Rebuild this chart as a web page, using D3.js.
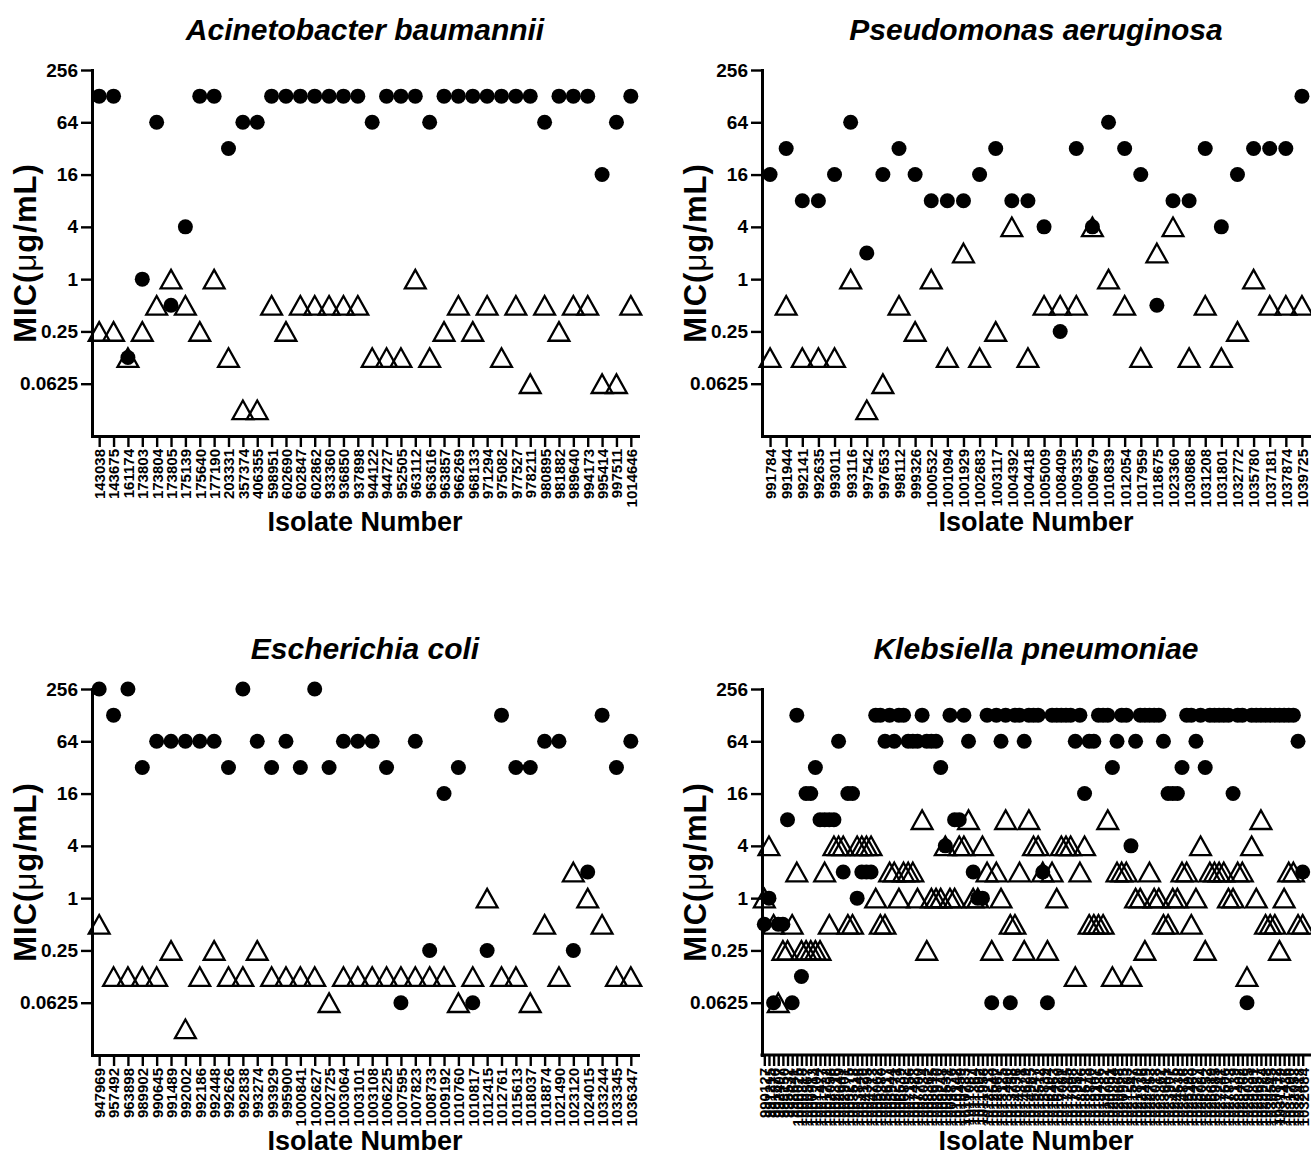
<!DOCTYPE html>
<html>
<head>
<meta charset="utf-8">
<script src="https://cdn.jsdelivr.net/npm/d3@7"></script>
<style>
  body { margin: 0; background: #fff; }
  svg text { font-family: "Liberation Sans", Arial, Helvetica, sans-serif; font-weight: bold; fill: #000; }
</style>
</head>
<body>
<svg id="chart" width="1311" height="1176"></svg>
<script>
// ---- y axis (MIC, log2) ----
var yTicks = [0.0625, 0.25, 1, 4, 16, 64, 256];
var yTickLabels = ["0.0625", "0.25", "1", "4", "16", "64", "256"];
var yMin = 0.015625, yMax = 256;

// ---- Acinetobacter baumannii ----
var abIsolates = ["143038","143675","161174","173803","173804","173805","175139","175640","177190","203331",
  "357374","406355","598951","602690","602847","602862","933360","936850","937898","944122",
  "944727","952505","963112","963616","963857","966269","968133","971294","975082","977527",
  "978211","980895","981882","989640","994173","995414","997511","1014646"];
var abCircle = [128,128,0.125,1,64,0.5,4,128,128,32,
  64,64,128,128,128,128,128,128,128,64,
  128,128,128,64,128,128,128,128,128,128,
  128,64,128,128,128,16,64,128];
var abTriangle = [0.25,0.25,0.125,0.25,0.5,1,0.5,0.25,1,0.125,
  0.03125,0.03125,0.5,0.25,0.5,0.5,0.5,0.5,0.5,0.125,
  0.125,0.125,1,0.125,0.25,0.5,0.25,0.5,0.125,0.5,
  0.0625,0.5,0.25,0.5,0.5,0.0625,0.0625,0.5];

// ---- Pseudomonas aeruginosa ----
var paIsolates = ["991784","991944","992141","992635","993011","993116","997542","997653","998112","999326",
  "1000532","1001094","1001929","1002683","1003117","1004392","1004418","1005009","1008409","1009335",
  "1009679","1010839","1012054","1017959","1018675","1023360","1030868","1031208","1031801","1032772",
  "1035780","1037181","1037874","1039725"];
var paCircle = [16,32,8,8,16,64,2,16,32,16,
  8,8,8,16,32,8,8,4,0.25,32,
  4,64,32,16,0.5,8,8,32,4,16,
  32,32,32,128];
var paTriangle = [0.125,0.5,0.125,0.125,0.125,1,0.03125,0.0625,0.5,0.25,
  1,0.125,2,0.125,0.25,4,0.125,0.5,0.5,0.5,
  4,1,0.5,0.125,2,4,0.125,0.5,0.125,0.25,
  1,0.5,0.5,0.5];

// ---- Escherichia coli ----
var ecIsolates = ["947969","957492","963898","989902","990645","991489","992002","992186","992448","992626",
  "992838","993274","993929","995900","1000841","1002627","1002725","1003064","1003101","1003108",
  "1006225","1007595","1007823","1008733","1009192","1010760","1010817","1012415","1012761","1015613",
  "1018037","1018874","1021490","1023120","1024015","1033244","1033345","1036347"];
var ecCircle = [256,128,256,32,64,64,64,64,64,32,
  256,64,32,64,32,256,32,64,64,64,
  32,0.0625,64,0.25,16,32,0.0625,0.25,128,32,
  32,64,64,0.25,2,128,32,64];
var ecTriangle = [0.5,0.125,0.125,0.125,0.125,0.25,0.03125,0.125,0.25,0.125,
  0.125,0.25,0.125,0.125,0.125,0.125,0.0625,0.125,0.125,0.125,
  0.125,0.125,0.125,0.125,0.125,0.0625,0.125,1,0.125,0.125,
  0.0625,0.5,0.125,2,1,0.5,0.125,0.125];

// ---- Klebsiella pneumoniae (labels overlap in the source, read approximately) ----
var kpIsolates = ["990127","991215","991876","992407","993150","995532","998641",
  "1000025","1000318","1000567","1000913","1001204","1001477","1001732","1002058","1002316","1002649",
  "1002901","1003275","1003518","1003846","1004120","1004395","1004713","1005062","1005380","1005617",
  "1005944","1006271","1006539","1006802","1007156","1007423","1007790","1008034","1008362","1008615",
  "1008970","1009248","1009531","1009876","1010142","1010459","1010733","1011087","1011364","1011692",
  "1011958","1012213","1012540","1012867","1013125","1013490","1013758","1014036","1014371","1014629",
  "1014985","1015247","1015512","1015839","1016104","1016463","1016720","1017081","1017345","1017698",
  "1017952","1018216","1018573","1018840","1019107","1019436","1019782","1020051","1020394","1020668",
  "1020925","1021283","1021547","1021870","1022136","1022419","1022753","1023018","1023362","1023641",
  "1023907","1024275","1024538","1024816","1025193","1025460","1025727","1026084","1026352","1026619",
  "1026985","1027241","1027506","1027873","1028139","1028402","1028768","1029035","1029391","1029657",
  "1029924","1030288","1030545","1030812","1031179","1031436","1031790","1032053","1032418","1032684"];
var kpCircle = [0.5,1,0.0625,0.5,0.5,8,0.0625,128,0.125,16,
  16,32,8,8,8,8,64,2,16,16,
  1,2,2,2,128,128,64,128,64,128,
  128,64,64,64,128,64,64,64,32,4,
  128,8,8,128,64,2,1,1,128,0.0625,
  128,64,128,0.0625,128,128,64,128,128,128,
  2,0.0625,128,128,128,128,128,64,128,16,
  64,64,128,128,128,32,64,128,128,4,
  64,128,128,128,128,128,64,16,16,16,
  32,128,128,64,128,32,128,128,128,128,
  128,16,128,128,0.0625,128,128,128,128,128,
  128,128,128,128,128,64,2];
var kpTriangle = [1,4,0.5,0.0625,0.25,0.25,0.5,2,0.25,0.25,
  0.25,0.25,0.25,2,0.5,4,4,4,0.5,0.5,
  4,4,4,4,1,0.5,0.5,2,2,1,
  2,2,2,1,8,0.25,1,1,1,4,
  1,1,4,4,8,1,1,4,2,0.25,
  2,1,8,0.5,0.5,2,0.25,8,4,4,
  2,0.25,2,1,4,4,4,0.125,2,4,
  0.5,0.5,0.5,0.5,8,0.125,2,2,2,0.125,
  1,1,0.25,2,1,1,0.5,0.5,1,1,
  2,2,0.5,1,4,0.25,2,2,2,2,
  1,1,2,2,0.125,4,1,8,0.5,0.5,
  0.5,0.25,1,2,2,0.5,0.5];

var panels = [
  {title: "Acinetobacter baumannii", ids: abIsolates, circ: abCircle, tri: abTriangle, x0: 92, x1: 638, y0: 70, y1: 436},
  {title: "Pseudomonas aeruginosa", ids: paIsolates, circ: paCircle, tri: paTriangle, x0: 762, x1: 1310, y0: 70, y1: 436},
  {title: "Escherichia coli", ids: ecIsolates, circ: ecCircle, tri: ecTriangle, x0: 92, x1: 638, y0: 689, y1: 1055},
  {title: "Klebsiella pneumoniae", ids: kpIsolates, circ: kpCircle, tri: kpTriangle, x0: 762, x1: 1305, xEnd: 1311, y0: 689, y1: 1055}
];

var svg = d3.select("#chart");
svg.append("rect").attr("width", 1311).attr("height", 1176).attr("fill", "#fff");

panels.forEach(drawPanel);

function drawPanel(p) {
  if (p.ids.length != p.circ.length || p.ids.length != p.tri.length) {
    console.error(p.title + " length mismatch", p.ids.length, p.circ.length, p.tri.length);
  }

  var x = d3.scalePoint()
    .domain(p.ids)
    .range([p.x0, p.x1])
    .padding(0.5);

  var y = d3.scaleLog().base(2)
    .domain([yMin, yMax])
    .range([p.y1, p.y0]);

  var g = svg.append("g");

  // x axis
  var xa = g.append("g")
    .attr("transform", "translate(0," + p.y1 + ")")
    .call(d3.axisBottom(x).tickSize(11).tickSizeOuter(0));
  xa.select(".domain").attr("stroke-width", 3).attr("stroke-linecap", "square");
  if (p.xEnd) {
    // axis line runs on to the edge of the figure
    xa.select(".domain").attr("d", "M" + p.x0 + ",0H" + p.xEnd);
  }
  xa.selectAll(".tick line").attr("stroke-width", 2.4);
  xa.selectAll(".tick text")
    .attr("transform", "rotate(-90)")
    .attr("x", -13)
    .attr("y", 0)
    .attr("dy", "0.36em")
    .style("text-anchor", "end")
    .style("font-size", "15px");

  // y axis
  var ya = g.append("g")
    .attr("transform", "translate(" + p.x0 + ",0)")
    .call(d3.axisLeft(y).tickValues(yTicks)
      .tickFormat(function(d, i) { return yTickLabels[i]; })
      .tickSize(11).tickSizeOuter(0));
  ya.select(".domain").attr("stroke-width", 3).attr("stroke-linecap", "square");
  ya.selectAll(".tick line").attr("stroke-width", 2.4);
  ya.selectAll(".tick text")
    .attr("x", -14)
    .style("font-size", "19px");

  // titles
  var cx = (p.x0 + (p.xEnd ? p.x1 + 5 : p.x1)) / 2;
  g.append("text")
    .attr("x", cx)
    .attr("y", p.y0 - 30)
    .attr("text-anchor", "middle")
    .style("font-size", "30px")
    .style("font-style", "italic")
    .text(p.title);

  g.append("text")
    .attr("x", cx)
    .attr("y", p.y1 + 95)
    .attr("text-anchor", "middle")
    .style("font-size", "27px")
    .text("Isolate Number");

  var yl = g.append("text")
    .attr("transform", "translate(" + (p.x0 - 56) + "," + ((p.y0 + p.y1) / 2) + ") rotate(-90)")
    .attr("text-anchor", "middle")
    .style("font-size", "31px")
    .style("letter-spacing", "1px");
  yl.append("tspan").text("MIC(");
  yl.append("tspan").style("font-weight", "normal").text("\u03bc");
  yl.append("tspan").text("g/mL)");

  var circData = p.ids.map(function(id, i) { return {id: id, v: p.circ[i]}; });
  var triData = p.ids.map(function(id, i) { return {id: id, v: p.tri[i]}; });

  // open triangles
  g.selectAll(".tri")
    .data(triData)
    .enter().append("path")
    .attr("class", "tri")
    .attr("d", "M0,-9.3L10.4,9.3L-10.4,9.3Z")
    .attr("transform", function(d) { return "translate(" + x(d.id) + "," + y(d.v) + ")"; })
    .attr("fill", "none")
    .attr("stroke", "#000")
    .attr("stroke-width", 2.3)
    .attr("stroke-linejoin", "miter");

  // filled circles
  g.selectAll(".dot")
    .data(circData)
    .enter().append("circle")
    .attr("class", "dot")
    .attr("cx", function(d) { return x(d.id); })
    .attr("cy", function(d) { return y(d.v); })
    .attr("r", 7.5)
    .attr("fill", "#000");
}
</script>
</body>
</html>
